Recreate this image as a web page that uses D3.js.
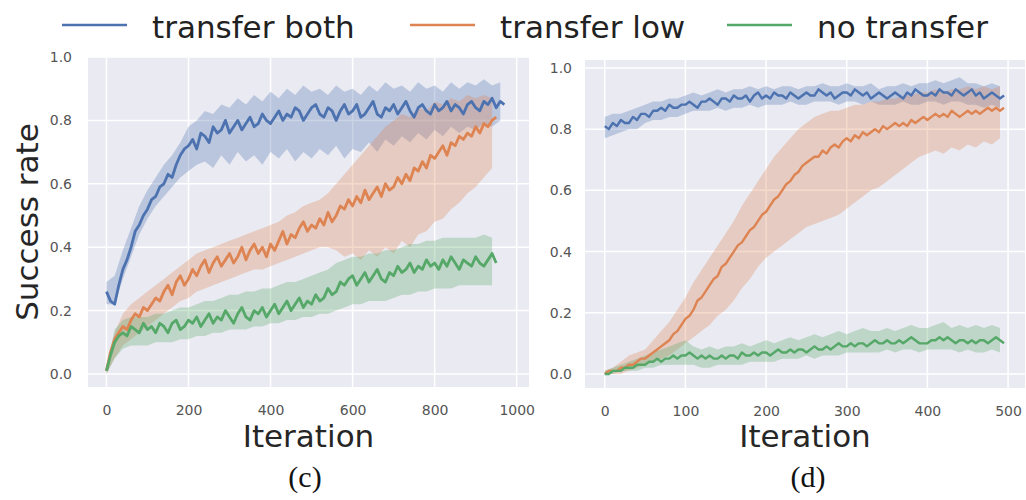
<!DOCTYPE html>
<html>
<head>
<meta charset="utf-8">
<script src="https://cdn.jsdelivr.net/npm/d3@7"></script>
<style>
  body { margin: 0; background: #fff; }
  svg { display: block; }
</style>
</head>
<body>
<svg id="chart" width="1026" height="500"></svg>
<script>
// legend + ticks
let seriesNames = ["transfer both", "transfer low", "no transfer"];
let seriesColors = ["#4c72b0", "#dd8452", "#55a868"];
let yTicks = [0, 0.2, 0.4, 0.6, 0.8, 1.0];
let xTicksC = [0, 200, 400, 600, 800, 1000];
let xTicksD = [0, 100, 200, 300, 400, 500];

// panel (c): means every 10 iterations, bands every 20
let bothMeanC = [.26,.23,.22,.28,.33,.36,.40,.45,.47,.50,
  .52,.55,.56,.59,.60,.63,.62,.66,.69,.71,
  .72,.74,.71,.76,.75,.73,.78,.76,.77,.80,
  .76,.78,.80,.77,.79,.81,.78,.79,.82,.80,
  .79,.81,.83,.80,.82,.81,.84,.83,.80,.82,
  .84,.85,.82,.81,.84,.83,.80,.83,.85,.82,
  .83,.85,.81,.82,.84,.86,.82,.81,.84,.83,
  .85,.82,.84,.86,.83,.81,.84,.85,.83,.82,
  .85,.83,.84,.86,.83,.85,.84,.82,.85,.86,
  .84,.83,.86,.85,.87,.84,.86,.85];
let lowMeanC = [.01,.07,.11,.13,.15,.14,.17,.19,.18,.21,
  .20,.22,.24,.23,.26,.28,.25,.29,.31,.28,
  .30,.33,.31,.34,.36,.32,.35,.37,.34,.36,
  .38,.35,.37,.40,.36,.39,.41,.38,.40,.37,
  .41,.39,.42,.45,.41,.44,.43,.46,.48,.45,
  .47,.46,.49,.47,.51,.48,.50,.53,.52,.55,
  .53,.56,.54,.58,.55,.57,.59,.56,.60,.58,
  .59,.62,.60,.63,.61,.65,.64,.67,.65,.69,
  .68,.70,.72,.69,.73,.72,.75,.74,.76,.75,
  .78,.76,.79,.78,.80,.81];
let noneMeanC = [.01,.06,.10,.12,.13,.12,.15,.14,.13,.16,
  .14,.15,.13,.16,.15,.13,.16,.17,.14,.15,
  .17,.16,.18,.15,.17,.19,.16,.18,.17,.20,
  .18,.16,.19,.21,.18,.17,.20,.19,.21,.18,
  .20,.22,.19,.21,.23,.20,.22,.24,.21,.23,
  .22,.25,.23,.24,.27,.25,.26,.29,.28,.30,
  .31,.28,.30,.32,.29,.31,.33,.30,.29,.32,
  .31,.34,.32,.33,.35,.32,.34,.33,.36,.34,
  .35,.33,.36,.34,.37,.35,.33,.36,.35,.34,
  .37,.35,.34,.36,.38,.35];
let bothLoC = [.22,.22,.30,.37,.44,.49,.53,.56,.59,.62,
  .64,.66,.67,.65,.69,.66,.70,.67,.69,.66,
  .70,.68,.71,.67,.70,.68,.71,.69,.72,.68,
  .71,.70,.73,.70,.74,.72,.75,.73,.76,.74,
  .77,.75,.78,.76,.78,.77,.79,.78,.80];
let bothHiC = [.29,.31,.39,.46,.53,.58,.62,.66,.69,.73,
  .78,.80,.83,.82,.85,.84,.87,.85,.88,.86,
  .89,.87,.90,.88,.91,.89,.90,.88,.91,.89,
  .90,.88,.91,.89,.92,.90,.91,.89,.92,.90,
  .91,.89,.92,.90,.92,.91,.93,.91,.92];
let lowLoC = [.00,.05,.09,.11,.13,.15,.17,.19,.21,.23,
  .24,.26,.27,.28,.29,.30,.31,.32,.33,.33,
  .34,.35,.36,.37,.38,.39,.40,.40,.39,.37,
  .38,.36,.39,.37,.40,.38,.42,.40,.44,.45,
  .48,.49,.52,.54,.57,.59,.62,.65];
let lowHiC = [.02,.13,.19,.22,.24,.26,.28,.30,.32,.34,
  .36,.38,.39,.40,.41,.42,.43,.44,.45,.46,
  .47,.48,.50,.51,.53,.54,.55,.57,.60,.63,
  .66,.69,.72,.75,.78,.80,.82,.81,.84,.83,
  .86,.85,.87,.86,.88,.87,.88,.87];
let noneLoC = [.00,.05,.08,.09,.09,.09,.10,.10,.10,.11,
  .11,.12,.12,.13,.13,.14,.14,.14,.15,.15,
  .16,.16,.17,.17,.18,.18,.19,.19,.20,.21,
  .22,.22,.23,.23,.23,.24,.25,.25,.26,.26,
  .27,.27,.27,.28,.28,.28,.28,.28];
let noneHiC = [.02,.14,.17,.18,.18,.18,.19,.19,.20,.21,
  .21,.22,.23,.23,.24,.25,.25,.26,.26,.27,
  .27,.28,.29,.29,.30,.31,.32,.33,.35,.36,
  .37,.37,.38,.38,.39,.39,.40,.41,.41,.42,
  .42,.43,.43,.43,.43,.43,.44,.43];

// panel (d): means every 5 iterations, bands every 10
let bothMeanD = [.81,.80,.82,.81,.83,.82,.82,.84,.83,.85,
  .85,.84,.86,.86,.87,.86,.88,.87,.87,.88,
  .88,.89,.88,.87,.89,.89,.90,.89,.88,.90,
  .90,.89,.91,.90,.90,.91,.89,.91,.92,.90,
  .91,.90,.92,.91,.91,.90,.92,.91,.90,.91,
  .92,.91,.91,.93,.92,.91,.92,.90,.91,.92,
  .92,.91,.93,.92,.91,.92,.90,.91,.92,.91,
  .90,.91,.92,.91,.90,.92,.91,.93,.92,.91,
  .91,.92,.91,.93,.92,.92,.91,.93,.92,.91,
  .92,.93,.91,.92,.90,.91,.92,.91,.90,.91];
let lowMeanD = [.00,.01,.01,.01,.02,.02,.03,.03,.04,.05,
  .05,.06,.07,.08,.09,.10,.11,.13,.14,.16,
  .18,.19,.21,.24,.25,.27,.29,.31,.32,.35,
  .36,.38,.40,.42,.43,.45,.47,.48,.50,.52,
  .53,.55,.57,.58,.60,.62,.63,.65,.66,.68,
  .69,.70,.71,.71,.73,.72,.74,.75,.74,.76,
  .77,.76,.78,.77,.79,.78,.79,.80,.79,.81,
  .80,.81,.82,.81,.82,.81,.83,.82,.83,.84,
  .83,.84,.85,.84,.85,.84,.86,.85,.84,.85,
  .86,.85,.86,.85,.86,.87,.86,.87,.86,.87];
let noneMeanD = [.00,.00,.01,.01,.01,.02,.02,.02,.03,.03,
  .03,.04,.04,.05,.04,.05,.05,.06,.05,.06,
  .06,.07,.06,.05,.06,.05,.06,.05,.05,.06,
  .05,.06,.06,.05,.07,.06,.06,.07,.06,.07,
  .07,.06,.07,.08,.07,.07,.08,.07,.08,.08,
  .07,.08,.09,.08,.08,.09,.08,.09,.10,.09,
  .09,.10,.09,.10,.10,.09,.10,.11,.10,.10,
  .11,.10,.10,.11,.10,.11,.12,.11,.10,.10,
  .10,.11,.11,.12,.11,.12,.11,.10,.11,.11,
  .10,.11,.10,.11,.11,.10,.11,.12,.11,.10];
let bothLoD = [.77,.78,.79,.80,.80,.82,.83,.83,.84,.84,
  .85,.86,.86,.86,.87,.86,.87,.87,.88,.87,
  .88,.88,.88,.89,.88,.88,.89,.89,.89,.88,
  .89,.89,.88,.89,.88,.88,.88,.89,.88,.88,
  .89,.89,.88,.89,.89,.88,.88,.87,.88,.87];
let bothHiD = [.84,.85,.85,.86,.87,.88,.89,.89,.90,.90,
  .91,.92,.91,.92,.93,.92,.93,.93,.94,.93,
  .94,.93,.94,.94,.93,.94,.94,.95,.94,.94,
  .95,.94,.94,.95,.93,.94,.94,.95,.94,.95,
  .95,.96,.95,.96,.97,.95,.95,.94,.95,.94];
let lowLoD = [.00,.00,.00,.01,.02,.03,.04,.05,.06,.08,
  .10,.12,.14,.16,.19,.21,.24,.28,.31,.35,
  .38,.40,.42,.44,.46,.48,.49,.50,.51,.52,
  .54,.56,.58,.60,.61,.63,.65,.67,.69,.71,
  .72,.73,.72,.74,.73,.75,.74,.76,.75,.77];
let lowHiD = [.01,.02,.04,.06,.07,.08,.11,.14,.17,.21,
  .25,.30,.34,.38,.42,.46,.50,.55,.59,.63,
  .67,.71,.74,.77,.80,.82,.84,.85,.86,.86,
  .87,.88,.88,.89,.89,.90,.90,.91,.91,.92,
  .92,.93,.92,.93,.93,.94,.93,.94,.93,.94];
let noneLoD = [.00,.00,.01,.01,.01,.02,.02,.03,.03,.03,
  .03,.03,.02,.02,.03,.03,.03,.03,.04,.04,
  .04,.04,.05,.05,.05,.06,.05,.06,.06,.06,
  .07,.07,.07,.07,.07,.08,.07,.08,.08,.07,
  .08,.08,.08,.08,.07,.08,.07,.07,.08,.07];
let noneHiD = [.01,.02,.03,.04,.05,.06,.07,.08,.09,.10,
  .11,.09,.08,.09,.08,.09,.09,.10,.09,.10,
  .11,.10,.11,.12,.11,.12,.13,.12,.13,.14,
  .13,.14,.15,.14,.14,.15,.14,.15,.16,.15,
  .15,.16,.17,.15,.16,.15,.16,.15,.16,.15];

let svg = d3.select("#chart");
let sans = "'DejaVu Sans', sans-serif";

function drawPanel(cfg) {
    let x = d3.scaleLinear().domain(cfg.xDomain).range([cfg.left, cfg.right]);
    let y = d3.scaleLinear().domain(cfg.yDomain).range([cfg.bottom, cfg.top]);
    let g = svg.append("g").attr("class", "panel " + cfg.id);

    // darkgrid background
    g.append("rect")
        .attr("x", cfg.left).attr("y", cfg.top)
        .attr("width", cfg.right - cfg.left)
        .attr("height", cfg.bottom - cfg.top)
        .attr("fill", "#eaeaf2");

    g.append("clipPath").attr("id", "clip-" + cfg.id)
        .append("rect")
        .attr("x", cfg.left).attr("y", cfg.top)
        .attr("width", cfg.right - cfg.left)
        .attr("height", cfg.bottom - cfg.top);

    let grid = g.append("g").attr("clip-path", "url(#clip-" + cfg.id + ")");
    grid.selectAll("line.gx").data(cfg.xTicks).enter().append("line")
        .attr("x1", d => x(d)).attr("x2", d => x(d))
        .attr("y1", cfg.top).attr("y2", cfg.bottom)
        .attr("stroke", "#fff").attr("stroke-width", 1.5);
    grid.selectAll("line.gy").data(yTicks).enter().append("line")
        .attr("x1", cfg.left).attr("x2", cfg.right)
        .attr("y1", d => y(d)).attr("y2", d => y(d))
        .attr("stroke", "#fff").attr("stroke-width", 1.5);

    let plot = g.append("g").attr("clip-path", "url(#clip-" + cfg.id + ")");

    // shaded bands first, then mean lines on top
    cfg.series.forEach((s, k) => {
        let band = s.lo.map((v, i) => ({it: i * cfg.bandStep, lo: v, hi: s.hi[i]}));
        plot.append("path")
            .datum(band)
            .attr("fill", seriesColors[k])
            .attr("fill-opacity", 0.3)
            .attr("d", d3.area().x(d => x(d.it)).y0(d => y(d.lo)).y1(d => y(d.hi)));
    });
    cfg.series.forEach((s, k) => {
        let pts = s.mean.map((v, i) => ({it: i * cfg.meanStep, v: v}));
        plot.append("path")
            .datum(pts)
            .attr("fill", "none")
            .attr("stroke", seriesColors[k])
            .attr("stroke-width", cfg.lineWidth)
            .attr("stroke-linejoin", "round")
            .attr("d", d3.line().x(d => x(d.it)).y(d => y(d.v)));
    });

    // tick labels only (no tick marks in seaborn darkgrid)
    let yAxis = g.append("g")
        .attr("transform", "translate(" + cfg.left + ",0)")
        .call(d3.axisLeft(y).tickValues(yTicks).tickSize(0)
            .tickPadding(cfg.yPad).tickFormat(d3.format(".1f")));
    let xAxis = g.append("g")
        .attr("transform", "translate(0," + cfg.bottom + ")")
        .call(d3.axisBottom(x).tickValues(cfg.xTicks).tickSize(0)
            .tickPadding(18).tickFormat(d3.format("d")));
    [yAxis, xAxis].forEach(a => {
        a.select(".domain").remove();
        a.selectAll("text")
            .attr("fill", "#555")
            .style("font", "14px " + sans);
    });

    let mid = (cfg.left + cfg.right) / 2;
    g.append("text")
        .attr("x", mid).attr("y", 447)
        .attr("text-anchor", "middle")
        .attr("fill", "#262626")
        .style("font", "31px " + sans)
        .text("Iteration");

    g.append("text")
        .attr("x", cfg.capX).attr("y", 487)
        .attr("text-anchor", "middle")
        .attr("fill", "#111")
        .style("font", "30px 'Liberation Serif', 'Times New Roman', serif")
        .text(cfg.caption);
}

drawPanel({
    id: "c", left: 88, right: 529, top: 57, bottom: 387,
    xDomain: [-45, 1030], yDomain: [-0.041, 1.0],
    xTicks: xTicksC, yPad: 16, meanStep: 10, bandStep: 20, lineWidth: 2.8,
    capX: 305, caption: "(c)",
    series: [
        {mean: bothMeanC, lo: bothLoC, hi: bothHiC},
        {mean: lowMeanC, lo: lowLoC, hi: lowHiC},
        {mean: noneMeanC, lo: noneLoC, hi: noneHiC}
    ]
});

drawPanel({
    id: "d", left: 585, right: 1025, top: 60, bottom: 388,
    xDomain: [-24.5, 521], yDomain: [-0.046, 1.026],
    xTicks: xTicksD, yPad: 13, meanStep: 5, bandStep: 10, lineWidth: 2.4,
    capX: 808, caption: "(d)",
    series: [
        {mean: bothMeanD, lo: bothLoD, hi: bothHiD},
        {mean: lowMeanD, lo: lowLoD, hi: lowHiD},
        {mean: noneMeanD, lo: noneLoD, hi: noneHiD}
    ]
});

// shared y label
svg.append("text")
    .attr("transform", "translate(38,222) rotate(-90)")
    .attr("text-anchor", "middle")
    .attr("fill", "#262626")
    .style("font", "31px " + sans)
    .text("Success rate");

// legend across the top
let legendX = [62, 410, 727];
let legend = svg.append("g").attr("class", "legend");
seriesNames.forEach((name, k) => {
    legend.append("line")
        .attr("x1", legendX[k]).attr("x2", legendX[k] + 65)
        .attr("y1", 25).attr("y2", 25)
        .attr("stroke", seriesColors[k])
        .attr("stroke-width", 2.5);
    legend.append("text")
        .attr("x", legendX[k] + 90).attr("y", 38)
        .attr("fill", "#222")
        .style("font", "31px " + sans)
        .text(name);
});
</script>
</body>
</html>
